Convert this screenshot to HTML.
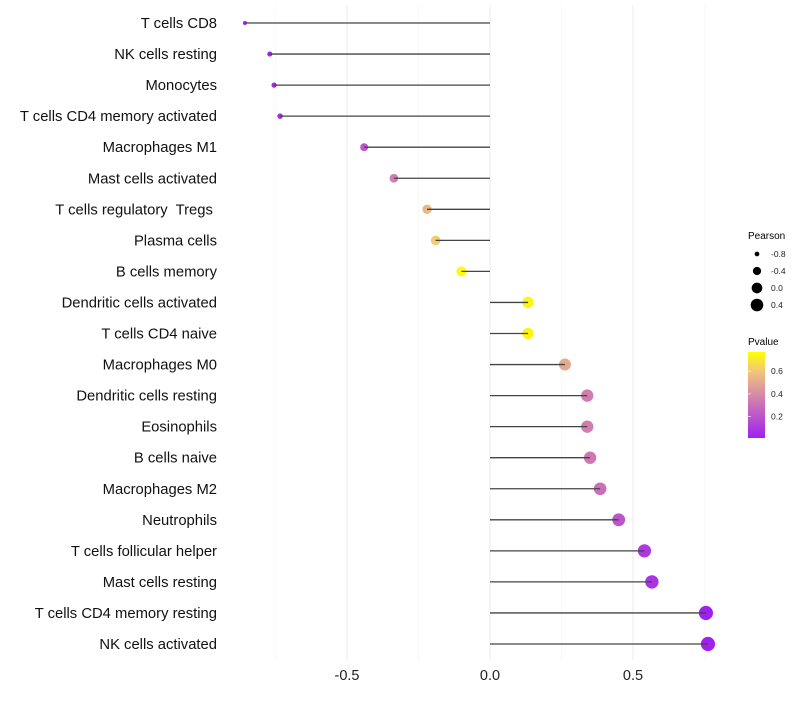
<!DOCTYPE html>
<html><head><meta charset="utf-8"><style>
body{margin:0;background:#fff;font-family:"Liberation Sans",sans-serif}
svg text{font-family:"Liberation Sans",sans-serif;white-space:pre}
</style></head><body>
<svg id="chart" width="800" height="700">
<defs>
<linearGradient id="pg" x1="0" y1="1" x2="0" y2="0">
<stop offset="0" stop-color="#a020f0"/>
<stop offset="0.5" stop-color="#d689a8"/>
<stop offset="0.78" stop-color="#f2c77a"/>
<stop offset="1" stop-color="#ffff00"/>
</linearGradient>
</defs>
<g id="grid"></g>
<g id="marks"></g>
<g id="labels"></g>
<g id="xticks"></g>
<g>
<text x="748" y="239" font-size="10">Pearson</text>
<g id="sizeLegend"></g>
</g>
<g>
<text x="748" y="345" font-size="10">Pvalue</text>
<rect x="748" y="352" width="17" height="86" fill="url(#pg)"/>
<g id="colorTicks"></g>
</g>
</svg>
<script>
const categories=["T cells CD8","NK cells resting","Monocytes","T cells CD4 memory activated","Macrophages M1","Mast cells activated","T cells regulatory  Tregs ","Plasma cells","B cells memory","Dendritic cells activated","T cells CD4 naive","Macrophages M0","Dendritic cells resting","Eosinophils","B cells naive","Macrophages M2","Neutrophils","T cells follicular helper","Mast cells resting","T cells CD4 memory resting","NK cells activated"];
const pearson=[-0.857,-0.77,-0.755,-0.734,-0.44,-0.336,-0.22,-0.19,-0.10,0.133,0.133,0.262,0.34,0.34,0.35,0.385,0.45,0.54,0.566,0.755,0.762];
const pvalues=[0.02,0.03,0.03,0.05,0.2,0.35,0.55,0.62,0.76,0.74,0.74,0.5,0.35,0.35,0.33,0.3,0.2,0.1,0.08,0.01,0.01];
const xTicks=[-0.5,0.0,0.5];
const xTickLabels=["-0.5","0.0","0.5"];
const sizeLegendValues=[-0.8,-0.4,0.0,0.4];
const colorTickValues=[0.2,0.4,0.6];
const NS="http://www.w3.org/2000/svg";
const xS=v=>490+v*286;
const yS=i=>23+i*31.05;
const rS=v=>Math.sqrt(Math.max(3,28.5*(v+0.857)+4));
const cbY=v=>438-(v-0.01)/(0.77-0.01)*86;
const stops=[[0,[160,32,240]],[0.5,[214,137,168]],[0.78,[242,199,122]],[1,[255,255,0]]];
function col(p){let t=Math.min(1,Math.max(0,(p-0.01)/0.76));for(let k=1;k<stops.length;k++){if(t<=stops[k][0]){const a=stops[k-1],b=stops[k];const f=(t-a[0])/(b[0]-a[0]);const c=a[1].map((x,j)=>Math.round(x+(b[1][j]-x)*f));return `rgb(${c})`;}}return "rgb(255,255,0)";}
function mk(tag,at,parent){const e=document.createElementNS(NS,tag);for(const k in at)e.setAttribute(k,at[k]);document.getElementById(parent).appendChild(e);return e;}
[-0.75,-0.25,0.25,0.75].forEach(v=>{const l=mk("line",{x1:xS(v),x2:xS(v),y1:5,y2:660,stroke:"#f3f3f3","stroke-width":0.6},"grid");

});
xTicks.forEach((v,i)=>{const l=mk("line",{x1:xS(v),x2:xS(v),y1:5,y2:660,stroke:"#ebebeb","stroke-width":1},"grid");


const t=mk("text",{x:xS(v),y:680,"font-size":14.5,"text-anchor":"middle",fill:"#222"},"xticks");t.textContent=xTickLabels[i];

});
categories.forEach((c,i)=>{const y=yS(i);
const t=mk("text",{x:217,y:y+5,"font-size":14.8,"text-anchor":"end",fill:"#111"},"labels");t.textContent=c;


const p=mk("circle",{cx:xS(pearson[i]),cy:y,r:rS(pearson[i]),fill:col(pvalues[i])},"marks");


const l=mk("line",{x1:xS(0),x2:xS(pearson[i]),y1:y,y2:y,stroke:"#444","stroke-width":1.3},"marks");

});
sizeLegendValues.forEach((v,i)=>{const y=254+i*17;
const c=mk("circle",{cx:757,cy:y,r:rS(v),fill:"#000"},"sizeLegend");


const t=mk("text",{x:771,y:y+3,"font-size":8.5,fill:"#222"},"sizeLegend");t.textContent=v.toFixed(1);

});
colorTickValues.forEach(v=>{const y=cbY(v);
const t=mk("text",{x:771,y:y+3,"font-size":8.5,fill:"#222"},"colorTicks");t.textContent=v.toFixed(1);


const l=mk("line",{x1:748,x2:751,y1:y,y2:y,stroke:"#fff","stroke-width":0.6},"colorTicks");

});
</script>
</body></html>
